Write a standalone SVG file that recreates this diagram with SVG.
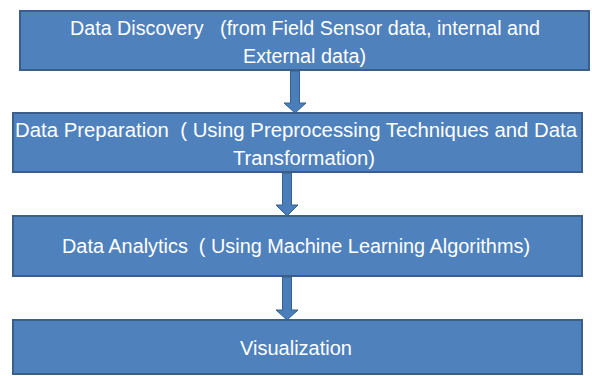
<svg xmlns="http://www.w3.org/2000/svg" width="592" height="376" viewBox="0 0 592 376">
<style>
.box{fill:#4F81BD;stroke:#3A5F8C;stroke-width:2}
.t{font-family:"Liberation Sans",Arial,sans-serif;font-size:20px;fill:#FFFFFF}
.arr{fill:#4A7EBB;stroke:#37608F;stroke-width:1}
</style>
<rect width="592" height="376" fill="#FFFFFF"/>
<g id="connectors">
<path class="arr" d="M290.5,71 H299.5 V103 H306 L295,113 L284,103 H290.5 Z"/>
<path class="arr" d="M282.5,173 H291.5 V205 H298 L287,216 L276,205 H282.5 Z"/>
<path class="arr" d="M282.5,277 H291.5 V310 H298 L287,320 L276,310 H282.5 Z"/>
</g>
<g id="node1">
<rect class="box" x="20" y="11" width="569" height="59"/>
<text class="t" x="70" y="35" textLength="470" lengthAdjust="spacingAndGlyphs" xml:space="preserve">Data Discovery   (from Field Sensor data, internal and</text>
<text class="t" x="243" y="63" textLength="123" lengthAdjust="spacingAndGlyphs">External data)</text>
</g>
<g id="node2">
<rect class="box" x="13" y="113" width="569" height="59"/>
<text class="t" x="15" y="137" textLength="562" lengthAdjust="spacingAndGlyphs" xml:space="preserve">Data Preparation  ( Using Preprocessing Techniques and Data</text>
<text class="t" x="233" y="165" textLength="142" lengthAdjust="spacingAndGlyphs">Transformation)</text>
</g>
<g id="node3">
<rect class="box" x="13" y="216" width="569" height="60"/>
<text class="t" x="62" y="253" textLength="468" lengthAdjust="spacingAndGlyphs" xml:space="preserve">Data Analytics  ( Using Machine Learning Algorithms)</text>
</g>
<g id="node4">
<rect class="box" x="13" y="320" width="569" height="54"/>
<text class="t" x="240" y="355" textLength="112" lengthAdjust="spacingAndGlyphs">Visualization</text>
</g>
</svg>
